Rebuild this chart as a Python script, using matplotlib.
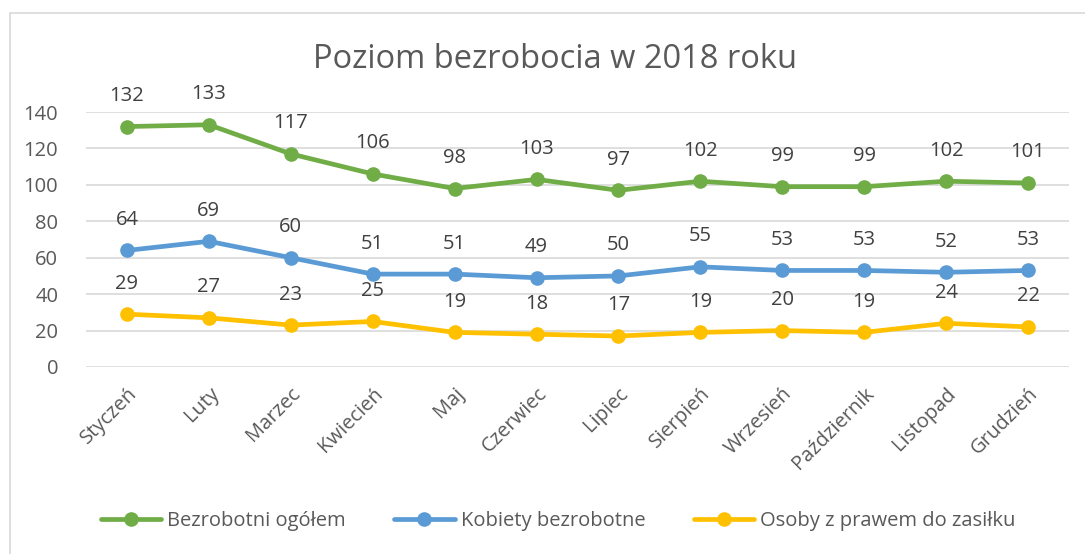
import matplotlib.pyplot as plt
from matplotlib.patches import Rectangle

# dane
miesiace = ['Styczeń', 'Luty', 'Marzec', 'Kwiecień', 'Maj', 'Czerwiec', 'Lipiec',
            'Sierpień', 'Wrzesień', 'Październik', 'Listopad', 'Grudzień']
ogolem = [132, 133, 117, 106, 98, 103, 97, 102, 99, 99, 102, 101]
kobiety = [64, 69, 60, 51, 51, 49, 50, 55, 53, 53, 52, 53]
zasilek = [29, 27, 23, 25, 19, 18, 17, 19, 20, 19, 24, 22]
nazwy = ['Bezrobotni ogółem', 'Kobiety bezrobotne', 'Osoby z prawem do zasiłku']
kolory = ['#70AD47', '#5B9BD5', '#FFC000']

plt.rcParams['font.family'] = ['Open Sans', 'DejaVu Sans']
szary = '#595959'

fig = plt.figure(figsize=(10.85, 5.54), dpi=100)
fig.patches.append(Rectangle((10 / 1085, -0.1), 1.2, 1 - 13 / 554 + 0.1,
                             transform=fig.transFigure, fill=False,
                             edgecolor='#D9D9D9', linewidth=1.2))
ax = fig.add_axes([86 / 1085, 1 - 367 / 554, 983 / 1085, 255 / 554])

x = list(range(len(miesiace)))
for serie, nazwa, kolor in zip([ogolem, kobiety, zasilek], nazwy, kolory):
    ax.plot(x, serie, color=kolor, lw=3.4, marker='o', ms=9.5, label=nazwa,
            solid_capstyle='round', zorder=3)
    for xi, yi in zip(x, serie):
        ax.annotate(str(yi), (xi, yi), xytext=(0, 22), textcoords='offset points',
                    ha='center', va='center', fontsize=14.5, color='#404040')

ax.set_xlim(-0.5, len(miesiace) - 0.5)
ax.set_ylim(0, 140)
ax.set_yticks(range(0, 141, 20))
ax.set_xticks(x)
ax.set_xticklabels(miesiace, rotation=45, ha='right', rotation_mode='anchor')
ax.tick_params(axis='both', length=0, labelsize=14.5, colors=szary)
ax.tick_params(axis='y', pad=20)
ax.tick_params(axis='x', pad=12)
ax.grid(axis='y', color='#D9D9D9', lw=1.2)
ax.set_axisbelow(True)
for s in ax.spines.values():
    s.set_visible(False)

fig.text(555 / 1085, 1 - 60 / 554, 'Poziom bezrobocia w 2018 roku', ha='center',
         va='center', fontsize=23.5, color=szary)

fig.legend(loc='center', bbox_to_anchor=(558 / 1085, 1 - 521 / 554), ncol=3,
           frameon=False, fontsize=14.5, handlelength=3.0, columnspacing=2.4,
           handletextpad=0.3, labelcolor=szary)

fig.savefig('out.png', dpi=100)
